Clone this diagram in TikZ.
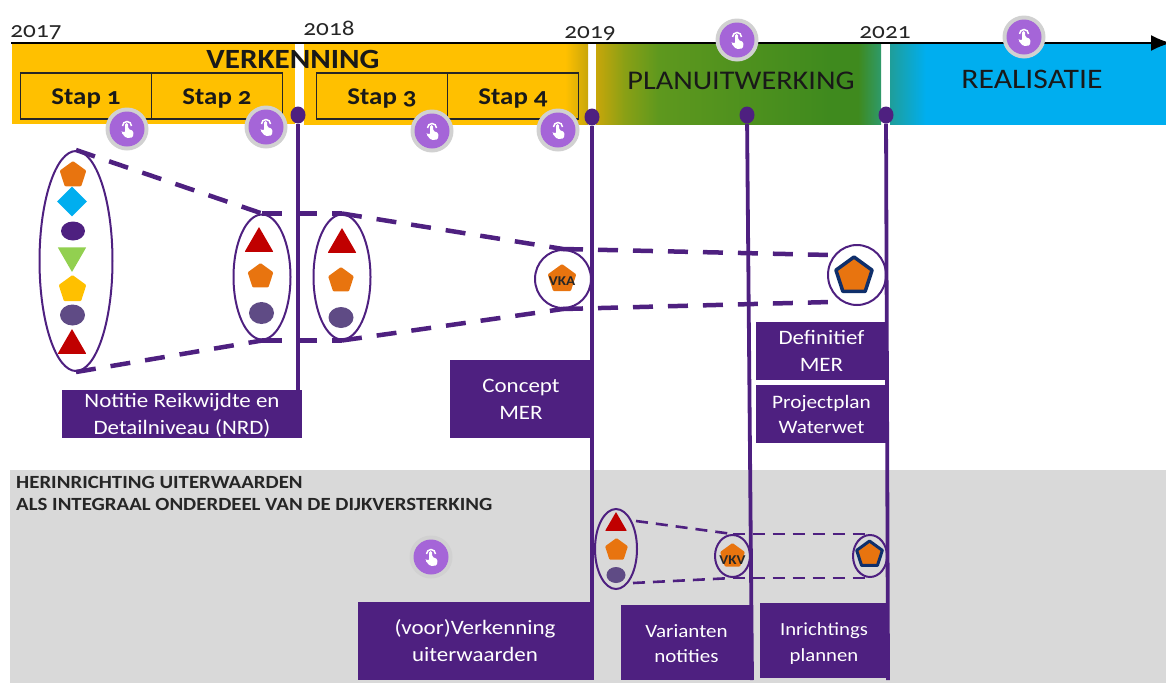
\documentclass[tikz,border=0pt]{standalone}
\usepackage{fontspec}
\setmainfont[Numbers=OldStyle,FakeStretch=1.12]{Carlito}
\usetikzlibrary{shapes.geometric,arrows.meta}
\definecolor{pp}{HTML}{4E2080}
\definecolor{ppl}{HTML}{A565D8}
\definecolor{og}{HTML}{E8740F}
\definecolor{yl}{HTML}{FFC000}
\definecolor{bl}{HTML}{00AEEF}
\definecolor{rd}{HTML}{C00000}
\definecolor{gr}{HTML}{92D050}
\definecolor{dg}{HTML}{5F4B85}
\definecolor{nv}{HTML}{0F2F6B}
\definecolor{ga}{HTML}{C8A60A}
\definecolor{gb}{HTML}{8AA015}
\definecolor{gc}{HTML}{5E981E}
\definecolor{gd}{HTML}{3F8A1E}
\definecolor{ge}{HTML}{2E9A6A}
\definecolor{ha}{HTML}{1F9E9A}
\pgfdeclarehorizontalshading{planshade}{100bp}{color(0bp)=(ga); color(25bp)=(ga); color(30bp)=(gb); color(36bp)=(gc); color(66bp)=(gd); color(71bp)=(gd); color(75bp)=(ge); color(100bp)=(ge)}
\pgfdeclarehorizontalshading{realshade}{100bp}{color(0bp)=(ha); color(25bp)=(ha); color(31.5bp)=(bl); color(100bp)=(bl)}
\pgfdeclarehorizontalshading{verkshade}{100bp}{color(0bp)=(yl); color(25bp)=(yl); color(71bp)=(yl); color(75bp)=(ga); color(100bp)=(ga)}
\tikzset{
 x=1pt,y=-1pt,
 yearlabel/.style={font=\fontsize{22.5}{24}\selectfont,text=black!85,inner sep=0pt,anchor=base},
 phase/.style={font=\fontsize{27}{29}\selectfont,text=black!90,inner sep=0pt},
 stapbox/.style={draw=black!85,line width=1.2pt,minimum width=131pt,minimum height=46pt,inner sep=0pt,font=\fontsize{24}{26}\selectfont\bfseries,text=black!90},
 infobox/.style={fill=pp,text=white,align=center,inner sep=0pt,font=\fontsize{20.5}{27}\selectfont},
 ring/.style={ellipse,draw=pp,line width=2pt,inner sep=0pt},
 pdash/.style={draw=pp,line width=4.5pt,dash pattern=on 20pt off 15pt},
 sdash/.style={draw=pp,line width=2.6pt,dash pattern=on 12pt off 8pt},
 vline/.style={draw=pp,line width=3.8pt},
 dot/.style={ellipse,fill=pp,inner sep=0pt,minimum width=15pt,minimum height=17pt},
 penta/.style={regular polygon,regular polygon sides=5,fill=og,inner sep=0pt,minimum size=#1,rounded corners=1pt},
 tri/.style={regular polygon,regular polygon sides=3,fill=rd,inner sep=0pt,minimum size=#1,rounded corners=.5pt},
 disc/.style={ellipse,fill=dg,inner sep=0pt},
 touch/.pic={
  \fill[black!18] (0,0) circle (21.5pt);
  \fill[ppl] (0,0) circle (17.5pt);
  \draw[white,line width=1.5pt] (-4.5,-3) arc (180:0:4.5pt);
  \fill[white,rounded corners=1.5pt] (-1.8,-6) -- (1.2,-6) -- (1.2,0) -- (6.5,2) -- (6,8.5) -- (-1,9) -- (-6,3) -- (-4.5,2) -- (-1.8,4) -- cycle;
 }
}
\begin{document}
\begin{tikzpicture}
\useasboundingbox (0,0) rectangle (1166,683);
% bars
\fill[yl] (12,44) rectangle (295,124);
\path[shading=verkshade] (304,44) rectangle (588,124);
\path[shading=planshade] (596,44) rectangle (881,124);
\path[shading=realshade] (890,44) rectangle (1166,124);
\fill[black!15] (10,470) rectangle (1166,683);
% axis
\coordinate (axisL) at (11,43);
\coordinate (axisR) at (1171,43);
\draw[line width=2.2pt,-{Latex[length=20pt,width=16pt]}] (axisL) -- (axisR);
\node[yearlabel] (y17) at (36,37) {2017};
\node[yearlabel] (y18) at (329,35) {2018};
\node[yearlabel] (y19) at (590,38) {2019};
\node[yearlabel] (y21) at (885,38) {2021};
% phases
\node[phase,font=\fontsize{27.8}{29}\selectfont\bfseries] (verk) at (293,59) {VERKENNING};
\node[phase] (plan) at (741,81) {PLANUITWERKING};
\node[phase,font=\fontsize{28.3}{30}\selectfont] (real) at (1032,79) {REALISATIE};
% stappen
\node[stapbox] (s1) at (86,96) {\raisebox{-8pt}[0pt][0pt]{Stap 1}};
\node[stapbox] (s2) at (217,96) {\raisebox{-8pt}[0pt][0pt]{Stap 2}};
\node[stapbox] (s3) at (382,96) {\raisebox{-8pt}[0pt][0pt]{Stap 3}};
\node[stapbox] (s4) at (513,96) {\raisebox{-8pt}[0pt][0pt]{Stap 4}};
% vertical
\node[dot] (d1) at (298,115) {};
\node[dot] (d2) at (592,117) {};
\node[dot] (d3) at (747,115) {};
\node[dot] (d4) at (886,115) {};
% boxes
\node[infobox,minimum width=240pt,minimum height=48pt] (nrd) at (182,414) {\rule{0pt}{17pt}Notitie Reikwijdte en\\Detailniveau (NRD)};
\node[infobox,minimum width=142pt,minimum height=78pt] (cmer) at (521,399) {Concept\\MER};
\node[infobox,minimum width=131pt,minimum height=58pt] (dmer) at (821.5,351) {Definitief\\MER};
\node[infobox,minimum width=131pt,minimum height=58pt,font=\fontsize{19}{25}\selectfont] (ppw) at (821.5,414) {Projectplan\\Waterwet};
\node[infobox,minimum width=234pt,minimum height=78pt] (vv) at (475,641) {(voor)Verkenning\\uiterwaarden};
\node[infobox,minimum width=131pt,minimum height=75pt,font=\fontsize{18.8}{25}\selectfont] (var) at (686.5,642.5) {\rule{0pt}{16pt}Varianten\\notities};
\node[infobox,minimum width=128pt,minimum height=75pt,font=\fontsize{18.5}{25.5}\selectfont] (inr) at (824,640.5) {\rule{0pt}{19pt}Inrichtings\\plannen};
\coordinate (d2b) at (592,680);
\coordinate (d3b) at (752,680);
\coordinate (d4b) at (888,680);
\coordinate (nrdTop) at (298,390);
\draw[vline] (d1) -- (nrdTop);
\draw[vline] (d2) -- (d2b);
\draw[vline] (d3) -- (d3b);
\draw[vline] (d4) -- (d4b);
% ellipses
\node[ring,minimum width=73pt,minimum height=220pt] (e1) at (76,261) {};
\node[ring,minimum width=57pt,minimum height=125pt] (e2) at (262,277) {};
\node[ring,minimum width=57pt,minimum height=125pt] (e3) at (342,277) {};
\node[ring,minimum width=56pt,minimum height=58pt] (e4) at (563,279) {};
\node[ring,minimum width=58pt,minimum height=60pt] (e5) at (857,275) {};
\node[ring,minimum width=42pt,minimum height=80pt] (e6) at (616,549) {};
\node[ring,minimum width=35pt,minimum height=42pt] (e7) at (732.5,556) {};
\node[ring,minimum width=34pt,minimum height=42pt] (e8) at (870,556) {};
% dashes
\draw[pdash] (e1.north) -- (e2.north);
\draw[pdash] (e2.north) -- (e3.north);
\draw[pdash] (e3.north) -- (e4.north);
\draw[pdash] (e1.south) -- (e2.south);
\draw[pdash] (e2.south) -- (e3.south);
\draw[pdash] (e3.south) -- (e4.south);
\coordinate (e5n) at (830,255);
\coordinate (e5s) at (830,302);
\draw[pdash] (e4.north) -- (e5n);
\draw[pdash] (e4.south) -- (e5s);
\coordinate (e6n) at (636,521);
\coordinate (e6s) at (633,583);
\draw[sdash] (e6n) -- (e7.north);
\draw[sdash] (e7.north) -- (e8.north);
\draw[sdash] (e6s) -- (e7.south);
\draw[sdash] (e7.south) -- (e8.south);
% symbols big
\node[penta=28pt] (a1) at (73,175) {};
\node[diamond,fill=bl,inner sep=0pt,minimum size=30pt] (a2) at (72,201.5) {};
\node[disc,fill=pp,minimum width=24pt,minimum height=19pt] (a3) at (73,231) {};
\node[tri=33pt,fill=gr,shape border rotate=180] (a4) at (72,255.5) {};
\node[penta=29pt,fill=yl] (a5) at (72.5,289.5) {};
\node[disc,minimum width=25pt,minimum height=21pt] (a6) at (72.5,315) {};
\node[tri=33pt] (a7) at (72,345.5) {};
\node[tri=33pt] (b1) at (259,243.5) {};
\node[penta=27pt] (b2) at (260.5,276.5) {};
\node[disc,minimum width=25pt,minimum height=22pt] (b3) at (261.5,313) {};
\node[tri=33pt] (c1) at (342,244.5) {};
\node[penta=27pt] (c2) at (341,280.5) {};
\node[disc,minimum width=25pt,minimum height=21pt] (c3) at (341,317.5) {};
\node[penta=30pt] (v1) at (562,279) {};
\node[font=\fontsize{13.5}{14}\selectfont\bfseries,text=black!85,inner sep=0pt] (v1t) at (562,281) {VKA};
\node[penta=38pt,draw=nv,line width=3.5pt,rounded corners=.5pt] (f1) at (854,276) {};
\node[tri=25pt] (g1) at (616,524.5) {};
\node[penta=24pt] (g2) at (616.5,550) {};
\node[disc,minimum width=19pt,minimum height=16pt] (g3) at (616,575) {};
\node[penta=26pt] (h1) at (732.5,556) {};
\node[font=\fontsize{13.5}{14}\selectfont\bfseries,text=black!85,inner sep=0pt] (h1t) at (732.5,560) {VKV};
\node[penta=27pt,draw=nv,line width=3pt,rounded corners=.5pt] (i1) at (869.5,554.5) {};
% grey title
\node[anchor=west,align=left,inner sep=0pt,font=\fontsize{18.6}{22.5}\selectfont\bfseries,text=black!85] (hdr) at (16,493.5) {HERINRICHTING UITERWAARDEN\\ALS INTEGRAAL ONDERDEEL VAN DE DIJKVERSTERKING};
% touch icons
\pic at (127,129) {touch};
\pic at (266,127) {touch};
\pic at (432,131) {touch};
\pic at (558,130) {touch};
\pic at (737,40) {touch};
\pic at (1024,37) {touch};
\pic at (431,557) {touch};
\end{tikzpicture}
\end{document}
